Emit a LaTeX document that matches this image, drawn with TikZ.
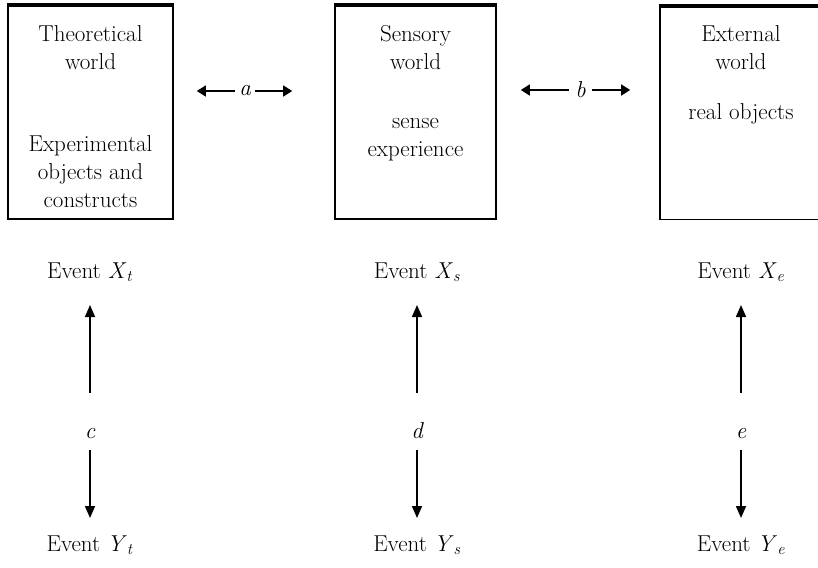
\documentclass[tikz,border=0pt]{standalone}
\usepackage{amsmath}
\usetikzlibrary{arrows.meta}

\tikzset{
  world/.style={draw, line width=1.6pt, minimum width=165pt, minimum height=213pt},
  txt/.style={align=center, font=\fontsize{23}{28}\selectfont},
  letter/.style={font=\fontsize{23}{28}\selectfont\itshape, inner sep=4pt},
  harr/.style={-{Triangle[width=11pt,length=9pt]}, line width=1.4pt},
  varr/.style={-{Triangle[width=10pt,length=12pt]}, line width=1.6pt}
}
\newcommand{\ev}[2]{Event \textit{#1}\textsubscript{\textit{#2}}}

\begin{document}
\begin{tikzpicture}[x=1pt, y=-1pt]
  \useasboundingbox (0,0) rectangle (818,567);
  \clip (0,0) rectangle (818,567);
  % The three worlds
  \node[world] (tw) at (90.5,112.5) {};
  \node[world, minimum width=161pt] (sw) at (415.5,112.5) {};
  \node[world, minimum width=162pt] (ew) at (741,113) {};
  % Heavier top edges
  \draw[line width=4pt] (tw.north west) -- (tw.north east);
  \draw[line width=4pt] (sw.north west) -- (sw.north east);
  \draw[line width=4pt] (ew.north west) -- (ew.north east);
  % Box texts
  \node[txt] (twtitle) at (90.5,48) {Theoretical\\world};
  \node[txt] (twbody) at (90.5,171.5) {Experimental\\objects and\\constructs};
  \node[txt] (swtitle) at (415.5,48) {Sensory\\world};
  \node[txt] (swbody) at (415.5,140) {sense\\experience};
  \node[txt] (ewtitle) at (741,48) {External\\world};
  \node[txt] (ewbody) at (741,114) {real objects};
  % Links between the worlds
  \node[letter] (a) at (245,91) {a};
  \node[letter, inner sep=6pt] (b) at (580.5,90) {b};
  \draw[harr, shorten >=23pt] (a) -- (a -| tw.east);
  \draw[harr, shorten >=42pt] (a) -- (a -| sw.west);
  \draw[harr, shorten >=24pt] (b) -- (b -| sw.east);
  \draw[harr, shorten >=29pt] (b) -- (b -| ew.west);
  % Events in each world
  \node[txt, anchor=base] (Xt) at (90,278) {\ev{X}{t}};
  \node[txt, anchor=base] (Xs) at (417,278) {\ev{X}{s}};
  \node[txt, anchor=base] (Xe) at (741,278) {\ev{X}{e}};
  \node[txt, anchor=base] (Yt) at (90,551) {\ev{Y}{t}};
  \node[txt, anchor=base] (Ys) at (417,551) {\ev{Y}{s}};
  \node[txt, anchor=base] (Ye) at (741,551) {\ev{Y}{e}};
  % Relations between the events
  \node[letter, anchor=base] (c) at (90,438) {c};
  \node[letter, anchor=base] (d) at (417,438) {d};
  \node[letter, anchor=base] (e) at (741,438) {e};
  \foreach \r/\x/\y in {c/Xt/Yt, d/Xs/Ys, e/Xe/Ye} {
    \draw[varr, shorten <=45pt, shorten >=27pt] (\r.base) -- (\r.base |- \x.base);
    \draw[varr, shorten <=12pt, shorten >=33pt] (\r.base) -- (\r.base |- \y.base);
  }
\end{tikzpicture}
\end{document}
